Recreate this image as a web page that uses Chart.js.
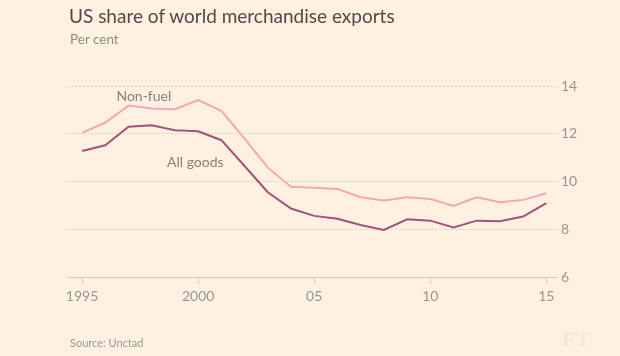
<!DOCTYPE html>
<html><head><meta charset="utf-8">
<script src="https://cdn.jsdelivr.net/npm/chart.js@4"></script>
<style>
html,body{margin:0;padding:0;background:#fef1e2;}
#wrap{position:relative;width:620px;height:356px;background:#fef1e2;overflow:hidden;}
canvas{position:absolute;left:0;top:0;}
.t{position:absolute;white-space:nowrap;font-family:Lato,"Open Sans",sans-serif;}
</style></head><body>
<div id="wrap">
<canvas id="c" width="620" height="356"></canvas>
<div class="t" id="title" style="left:69px;top:4px;font-size:19px;color:#4f4a47;">US share of world merchandise exports</div>
<div class="t" id="sub" style="left:70px;top:31px;font-size:13.5px;color:#8f8a86;">Per cent</div>
<div class="t" id="src" style="left:70px;top:336px;font-size:11px;color:#9a9590;">Source: Unctad</div>
<div class="t" id="ft" style="left:562px;top:326px;font-size:22px;font-weight:bold;color:#f1e7dc;font-family:'Liberation Serif',serif;">FT</div>
</div>
<script>
const years = [1995,1996,1997,1998,1999,2000,2001,2002,2003,2004,2005,2006,2007,2008,2009,2010,2011,2012,2013,2014,2015];
const nonFuel = [12.04,12.47,13.18,13.06,13.03,13.41,12.96,11.8,10.58,9.78,9.74,9.69,9.34,9.20,9.34,9.27,8.98,9.34,9.13,9.23,9.51];
const allGoods = [11.28,11.52,12.29,12.36,12.15,12.10,11.73,10.65,9.55,8.87,8.56,8.44,8.18,7.97,8.42,8.36,8.08,8.36,8.34,8.53,9.09];
const xTickValues = [1995,2000,2005,2010,2015];
const xTickLabels = ["1995","2000","05","10","15"];
const yTickValues = [6,8,10,12,14];
const seriesLabels = ["Non-fuel","All goods"];
const labelAnchors = [[1996.48,13.38],[1998.66,10.61]];

const labelPlugin = {
  id:'lineLabels',
  afterDatasetsDraw(chart){
    const {ctx,scales:{x,y}} = chart;
    ctx.save();
    ctx.font = '14px Lato, "Open Sans", sans-serif';
    ctx.fillStyle = '#857f7b';
    ctx.textBaseline = 'alphabetic';
    seriesLabels.forEach((s,i)=>{
      ctx.fillText(s, x.getPixelForValue(labelAnchors[i][0]), y.getPixelForValue(labelAnchors[i][1]));
    });
    ctx.restore();
  }
};

new Chart(document.getElementById('c'), {
  type:'line',
  data:{
    datasets:[
      {label:seriesLabels[0], data:years.map((yr,i)=>({x:yr,y:nonFuel[i]})), borderColor:'#f2a6b6', borderWidth:2, pointRadius:0, tension:0},
      {label:seriesLabels[1], data:years.map((yr,i)=>({x:yr,y:allGoods[i]})), borderColor:'#a2527c', borderWidth:2, pointRadius:0, tension:0}
    ]
  },
  options:{
    responsive:false, animation:false,
    layout:{padding:{left:67,top:86,right:0,bottom:0}},
    plugins:{legend:{display:false},tooltip:{enabled:false}},
    scales:{
      x:{type:'linear', min:1994.35, max:2015.46,
        afterBuildTicks(s){ s.ticks = xTickValues.map(v=>({value:v})); },
        afterFit(s){ s.height = 79; },
        ticks:{callback:(v)=>xTickLabels[xTickValues.indexOf(v)], color:'#9a9590', font:{family:'Lato, "Open Sans", sans-serif', size:14}, padding:4, maxRotation:0, autoSkip:false},
        grid:{drawOnChartArea:false, drawTicks:true, tickLength:7, color:'#d4cdc6', lineWidth:1},
        border:{display:true, color:'#cfc8c1', width:1}
      },
      y:{position:'right', min:6, max:14,
        afterBuildTicks(s){ s.ticks = yTickValues.map(v=>({value:v})); },
        afterFit(s){ s.width = 63; },
        ticks:{color:'#9a9590', font:{family:'Lato, "Open Sans", sans-serif', size:14}, padding:4, align:'center'},
        grid:{drawTicks:false, color:(c)=>c.tick && c.tick.value===6 ? 'rgba(0,0,0,0)' : '#d6cfc8', lineWidth:1},
        border:{display:false, dash:[2,2]}
      }
    }
  },
  plugins:[labelPlugin]
});
</script>
</body></html>
